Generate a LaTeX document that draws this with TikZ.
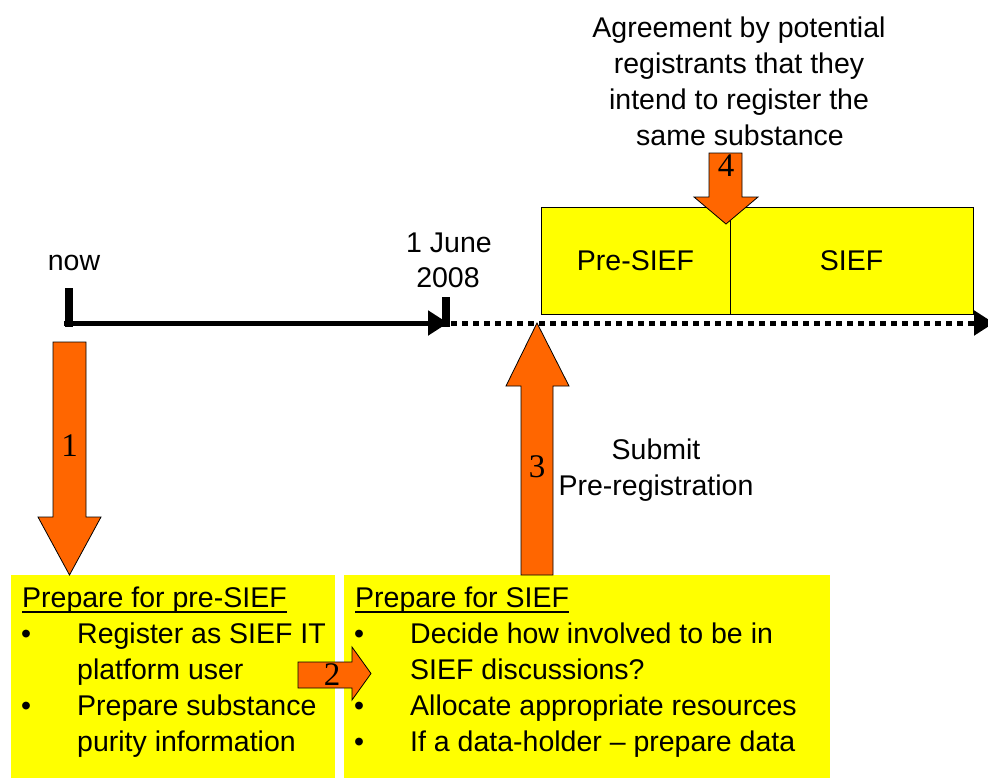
\documentclass[tikz,border=0pt]{standalone}
\usepackage{fontspec}
\setmainfont{Liberation Sans}
\newfontfamily\numfont{Liberation Serif}
\usetikzlibrary{arrows.meta}
\definecolor{tyellow}{HTML}{FFFF00}
\definecolor{torange}{HTML}{FF6600}
\begin{document}
\begin{tikzpicture}[x=1pt,y=-1pt,
  txt/.style={font=\fontsize{28.5}{36}\selectfont, inner sep=0pt},
  num/.style={font=\numfont\fontsize{33}{36}\selectfont, inner sep=0pt},
  blockarrow/.style={fill=torange, draw=black, line width=0.8pt, line join=miter},
  ybox/.style={fill=tyellow, draw=none},
  timeline/.style={line width=5pt, draw=black},
  tickmark/.style={line width=8pt, draw=black}]
\clip (0,0) rectangle (988,777);
\fill[white] (0,0) rectangle (988,777);

% yellow boxes
\path[ybox] (11,575) rectangle (335,780);
\path[ybox] (344,575) rectangle (830,780);
\node[draw=black, fill=tyellow, line width=0.8pt, minimum width=189pt, minimum height=107pt, inner sep=0pt] (presief) at (635.5,260.5) {};
\node[draw=black, fill=tyellow, line width=0.8pt, minimum width=243pt, minimum height=107pt, inner sep=0pt] (sief) at (851.5,260.5) {};
\node[txt] (presieft) at (presief) {Pre-SIEF};
\node[txt] (sieft) at (sief) {SIEF};

% timeline
\coordinate (now0) at (69,288);
\coordinate (nowc) at (69,323);
\coordinate (jun) at (448,323);
\coordinate (jun0) at (446,297);
\coordinate (end) at (994,323);
\draw[tickmark] (now0) -- (69,326.5);
\draw[timeline, -{Triangle[length=20pt,width=24pt]}] (64,323) -- (jun);
\draw[tickmark] (jun0) -- (446,326.5);
\draw[line width=5pt, dash pattern=on 6pt off 5pt, -{Triangle[length=20pt,width=24pt]}] (451,323) -- (end);

% labels
\node[txt, anchor=base] (now) at (74,270) {now};
\node[txt, anchor=base] (june1) at (449,252) {1 June};
\node[txt, anchor=base] (june2) at (448,287) {2008};
\node[txt, anchor=base] (ag1) at (739,37) {Agreement by potential};
\node[txt, anchor=base] (ag2) at (739,73) {registrants that they};
\node[txt, anchor=base] (ag3) at (739,109) {intend to register the};
\node[txt, anchor=base] (ag4) at (740,145) {same substance};
\node[txt, anchor=base] (sub1) at (656,459) {Submit};
\node[txt, anchor=base] (sub2) at (656,495) {Pre-registration};

% block arrows
\draw[blockarrow] (53,342) -- (86,342) -- (86,517) -- (101,517) -- (69.5,575) -- (38,517) -- (53,517) -- cycle;
\node[num] (n1) at (69.5,446) {1};
\draw[blockarrow] (521,575) -- (553,575) -- (553,386) -- (569,386) -- (537,323) -- (506,386) -- (521,386) -- cycle;
\node[num] (n3) at (537,467) {3};
\draw[blockarrow] (709,153) -- (742,153) -- (742,197) -- (758,197) -- (726,224) -- (694,197) -- (709,197) -- cycle;
\node[num] (n4) at (726,166) {4};

% box texts
\node[txt, anchor=base west] (t1) at (22,607) {Prepare for pre-SIEF};
\draw[line width=1.5pt] ([yshift=-5pt]t1.base west) -- ([yshift=-5pt]t1.base east);
\node[txt, anchor=base west] (b11) at (21,643) {•};
\node[txt, anchor=base west] (l11) at (77,643) {Register as SIEF IT};
\node[txt, anchor=base west] (l12) at (77,679) {platform user};
\node[txt, anchor=base west] (b12) at (21,715) {•};
\node[txt, anchor=base west] (l13) at (77,715) {Prepare substance};
\node[txt, anchor=base west] (l14) at (77,751) {purity information};

\node[txt, anchor=base west] (t2) at (355,607) {Prepare for SIEF};
\draw[line width=1.5pt] ([yshift=-5pt]t2.base west) -- ([yshift=-5pt]t2.base east);
\node[txt, anchor=base west] (b21) at (354,643) {•};
\node[txt, anchor=base west] (l21) at (410,643) {Decide how involved to be in};
\node[txt, anchor=base west] (l22) at (410,679) {SIEF discussions?};
\node[txt, anchor=base west] (b22) at (354,715) {•};
\node[txt, anchor=base west] (l23) at (410,715) {Allocate appropriate resources};
\node[txt, anchor=base west] (b23) at (354,751) {•};
\node[txt, anchor=base west] (l24) at (410,751) {If a data-holder – prepare data};

% arrow 2
\draw[blockarrow] (298,662) -- (352,662) -- (352,647) -- (371,673.5) -- (352,700) -- (352,688) -- (298,688) -- cycle;
\node[num] (n2) at (332,675) {2};
\end{tikzpicture}
\end{document}
